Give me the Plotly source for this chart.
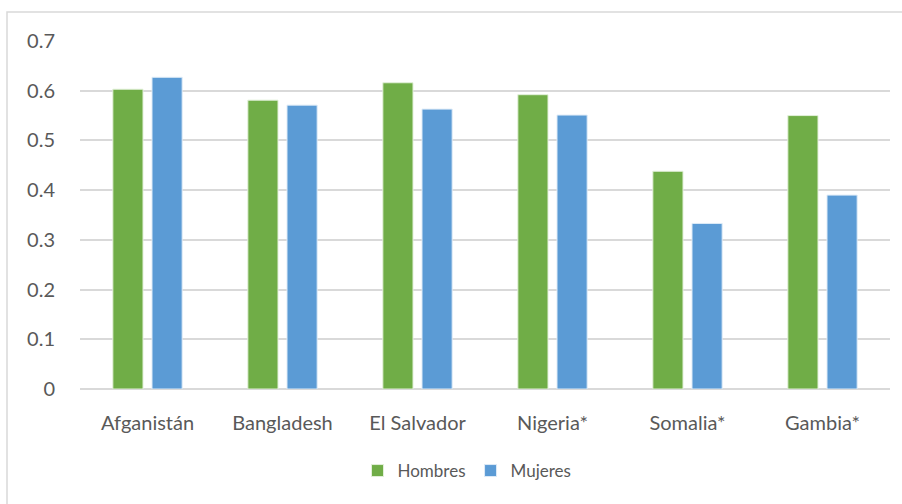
import plotly.graph_objects as go

categories = ["Afganistán", "Bangladesh", "El Salvador", "Nigeria*", "Somalia*", "Gambia*"]
hombres = [0.603, 0.581, 0.616, 0.592, 0.438, 0.550]
mujeres = [0.627, 0.571, 0.563, 0.551, 0.333, 0.390]
y_ticks = [0, 0.1, 0.2, 0.3, 0.4, 0.5, 0.6, 0.7]
y_ticklabels = ["0", "0.1", "0.2", "0.3", "0.4", "0.5", "0.6", "0.7"]

FONT = "Lato"
TXT = "#595959"

fig = go.Figure()
fig.add_trace(go.Bar(name="Hombres", x=categories, y=hombres,
                     marker=dict(color="#70AD47", line=dict(color="#e2f0d9", width=1))))
fig.add_trace(go.Bar(name="Mujeres", x=categories, y=mujeres,
                     marker=dict(color="#5B9BD5", line=dict(color="#deebf7", width=1))))

L, R, T, B = 80, 12, 41, 115
W, H = 902, 504
pw = W - L - R
ph = H - T - B

fig.update_layout(
    width=W, height=H,
    margin=dict(l=L, r=R, t=T, b=B, pad=0),
    paper_bgcolor="white", plot_bgcolor="white",
    barmode="group", bargap=0.42, bargroupgap=0.23,
    font=dict(family=FONT, color=TXT, size=18),
    xaxis=dict(showgrid=False, showline=False, zeroline=False,
               ticks="outside", ticklen=16, tickcolor="rgba(0,0,0,0)",
               tickfont=dict(size=20, color=TXT)),
    yaxis=dict(range=[0, 0.7], tickvals=y_ticks, ticktext=y_ticklabels,
               showgrid=True, gridcolor="#d9d9d9", gridwidth=1.5,
               zeroline=True, zerolinecolor="#d9d9d9", zerolinewidth=1.5,
               showline=False, ticks="outside", ticklen=20,
               tickcolor="rgba(0,0,0,0)", tickfont=dict(size=20, color=TXT)),
    legend=dict(orientation="h", x=(467 - L) / pw, xanchor="center",
                y=(H - B - 471) / ph, yanchor="middle",
                font=dict(size=17, color=TXT), itemwidth=30, entrywidthmode="pixels",
                traceorder="normal", bgcolor="rgba(0,0,0,0)"),
    shapes=[dict(type="rect", xref="paper", yref="paper",
                 x0=(7 - L) / pw, x1=(W + 20 - L) / pw,
                 y0=(H - B - (H + 20)) / ph, y1=(H - B - 12) / ph,
                 line=dict(color="#d9d9d9", width=1.5), fillcolor="rgba(0,0,0,0)",
                 layer="below")],
)

fig.write_html("out.html", config={"displayModeBar": False},
               post_script="document.body.style.margin='0';")
